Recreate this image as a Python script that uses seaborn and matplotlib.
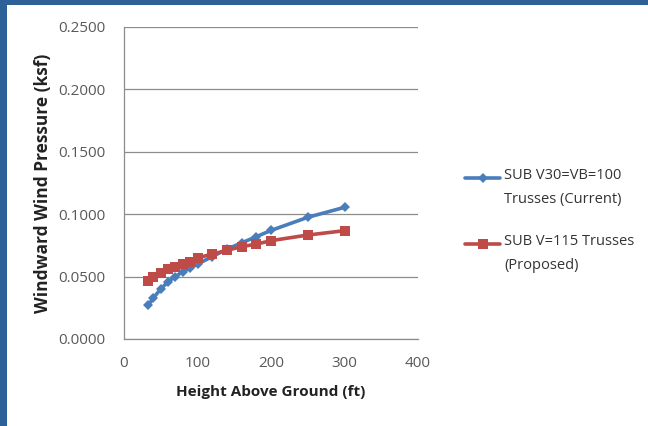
import matplotlib
matplotlib.use("Agg")
import matplotlib.pyplot as plt
from matplotlib.patches import Rectangle
from matplotlib.lines import Line2D
from matplotlib.legend_handler import HandlerLine2D
import numpy as np
import pandas as pd
import seaborn as sns

# Heights above ground (ft)
heights = [33, 40, 50, 60, 70, 80, 90, 100, 120, 140, 160, 180, 200, 250, 300]

# Windward wind pressure (ksf) for each truss criterion
current_pressure = [0.027, 0.033, 0.040, 0.046, 0.050, 0.054, 0.057, 0.060,
                    0.066, 0.072, 0.077, 0.082, 0.087, 0.0975, 0.1055]
proposed_pressure = [0.0467, 0.050, 0.053, 0.056, 0.058, 0.060, 0.062, 0.065,
                     0.068, 0.071, 0.074, 0.076, 0.0788, 0.0833, 0.0868]

series_names = ["SUB V30=VB=100\nTrusses (Current)",
                "SUB V=115 Trusses\n(Proposed)"]

x_ticks = [0, 100, 200, 300, 400]
y_ticks = [0.0, 0.05, 0.10, 0.15, 0.20, 0.25]

df = pd.DataFrame({
    "height": heights * 2,
    "pressure": current_pressure + proposed_pressure,
    "series": [series_names[0]] * len(heights) + [series_names[1]] * len(heights),
})

sns.set_theme(style="white")
plt.rcParams["font.family"] = ["Open Sans", "DejaVu Sans"]

W, H = 648, 426
fig = plt.figure(figsize=(W / 100, H / 100), dpi=100)
fig.patch.set_facecolor("white")

# Dark blue frame on the left and top edges
frame = "#2F6199"
fig.patches.append(Rectangle((0, 0), 7 / W, 1, transform=fig.transFigure,
                             facecolor=frame, edgecolor="none", zorder=0))
fig.patches.append(Rectangle((0, 1 - 5 / H), 1, 5 / H, transform=fig.transFigure,
                             facecolor=frame, edgecolor="none", zorder=0))

ax = fig.add_axes([124 / W, (H - 339) / H, (418 - 124) / W, (339 - 27) / H])

palette = {series_names[0]: "#4A7EBB", series_names[1]: "#BE4B48"}
sns.lineplot(data=df[df.series == series_names[0]], x="height", y="pressure",
             color=palette[series_names[0]], marker="D", markersize=5.5,
             markeredgewidth=0, linewidth=2.6, ax=ax, label=series_names[0],
             zorder=3)
sns.lineplot(data=df[df.series == series_names[1]], x="height", y="pressure",
             color=palette[series_names[1]], marker="s", markersize=7.5,
             markeredgewidth=0, linewidth=2.6, ax=ax, label=series_names[1],
             zorder=4)

ax.set_xlim(0, 400)
ax.set_ylim(0, 0.25)
ax.set_xticks(x_ticks)
ax.set_yticks(y_ticks)
ax.set_xticklabels([str(t) for t in x_ticks])
ax.set_yticklabels([f"{t:.4f}" for t in y_ticks])

grid_c = "#8C8C8C"
ax.yaxis.grid(True, color=grid_c, linewidth=0.9)
ax.xaxis.grid(False)
for side in ["top", "right"]:
    ax.spines[side].set_visible(False)
for side in ["left", "bottom"]:
    ax.spines[side].set_color(grid_c)
    ax.spines[side].set_linewidth(0.9)

ax.tick_params(axis="both", which="major", direction="inout", length=5,
               width=0.8, color=grid_c, labelsize=11, labelcolor="#595959")
ax.tick_params(axis="y", pad=11)
ax.tick_params(axis="x", pad=10)

ax.set_xlabel("Height Above Ground (ft)", fontsize=11, fontweight="bold",
              color="#222222", labelpad=10)
ax.set_ylabel("Windward Wind Pressure (ksf)", fontsize=12.5, fontweight="bold",
              color="#222222", labelpad=4)


class FirstLineHandler(HandlerLine2D):
    """Line handle lifted to sit beside the first line of a two-line label."""

    def __init__(self, lift, **kw):
        super().__init__(**kw)
        self.lift = lift

    def create_artists(self, legend, orig_handle, xdescent, ydescent,
                       width, height, fontsize, trans):
        return super().create_artists(legend, orig_handle, xdescent,
                                      ydescent - self.lift, width, height,
                                      fontsize, trans)


leg_fs = 10.5
leg = ax.legend(loc="upper left", bbox_to_anchor=((458 - 124) / 294, 0.571),
                frameon=False, borderpad=0, fontsize=leg_fs, labelspacing=1.8,
                handlelength=2.4, handletextpad=0.27, labelcolor="#333333",
                handler_map={Line2D: FirstLineHandler(lift=14.0)})
for t in leg.get_texts():
    t.set_linespacing(1.85)

fig.savefig("out.png", dpi=100, facecolor="white")
